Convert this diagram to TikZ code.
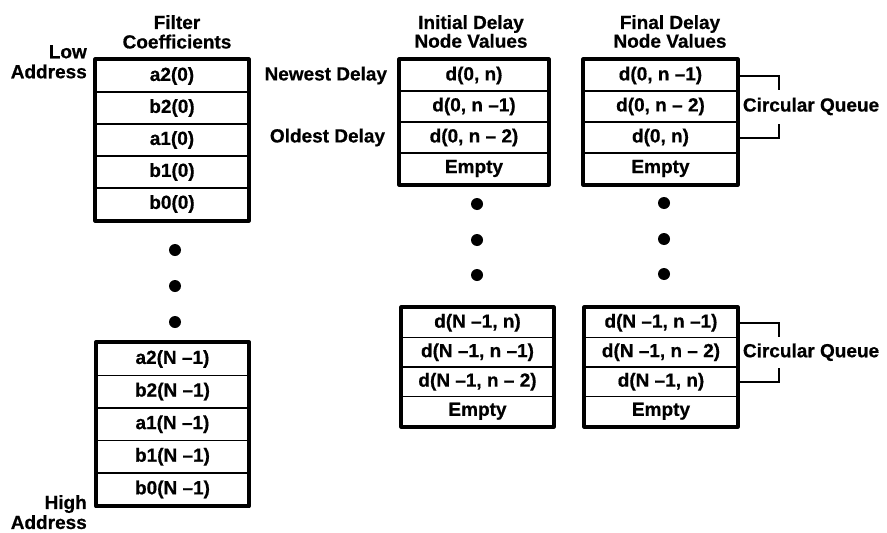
\documentclass[tikz,border=0pt]{standalone}
\usepackage{fontspec}
\setmainfont{Liberation Sans}[BoldFeatures={FakeBold=0.6}]
\usetikzlibrary{positioning}

\begin{document}
\begin{tikzpicture}[x=1pt, y=-1pt,
  every node/.style={inner sep=0pt, font=\fontsize{19}{20}\selectfont\bfseries},
  cell/.style={draw, line width=1.5pt},
  outer/.style={line width=4pt, line join=round},
  title/.style={align=center, anchor=north},
  dot/.style={circle, fill, minimum size=12pt},
  bracket/.style={line width=2pt}]
  \useasboundingbox (0,0) rectangle (887,533);

  % filter coefficients, first and last section
  \node[title, font=\fontsize{19}{19.5}\selectfont\bfseries] (ftitle) at (177,15) {Filter\\Coefficients};
  \foreach \txt [count=\i] in {a2(0), b2(0), a1(0), b1(0), b0(0)}
    \node[cell, minimum width=152pt, minimum height=32pt] (fa\i) at (172, 44+32*\i) {\txt};
  \draw[outer] (fa1.north west) rectangle (fa5.south east);
  \foreach \txt [count=\i] in {a2(N –1), b2(N –1), a1(N –1), b1(N –1), b0(N –1)}
    \node[cell, minimum width=151pt, minimum height=32.6pt] (fb\i) at (172.5, 326.4+32.6*\i) {\txt};
  \draw[outer] (fb1.north west) rectangle (fb5.south east);
  \foreach \y [count=\i] in {250, 286, 322}
    \node[dot] (fd\i) at (175, \y) {};
  \node[align=right, anchor=north east] (low) at (87,45) {Low\\Address};
  \node[align=right, anchor=north east] (high) at (87,495) {High\\Address};

  % initial delay node values
  \node[title, font=\fontsize{19}{17}\selectfont\bfseries] (ititle) at (471,15) {Initial Delay\\Node Values};
  \foreach \txt [count=\i] in {{d(0, n)}, {d(0, n –1)}, {d(0, n – 2)}, Empty}
    \node[cell, minimum width=148pt, minimum height=31pt] (ia\i) at (474, 44.5+31*\i) {\txt};
  \draw[outer] (ia1.north west) rectangle (ia4.south east);
  \foreach \txt [count=\i] in {{d(N –1, n)}, {d(N –1, n –1)}, {d(N –1, n – 2)}, Empty}
    \node[cell, minimum width=151pt, minimum height=29.5pt] (ib\i) at (477.5, 293.25+29.5*\i) {\txt};
  \draw[outer] (ib1.north west) rectangle (ib4.south east);
  \foreach \y [count=\i] in {204, 240, 275}
    \node[dot] (id\i) at (477, \y) {};
  \node[left=12pt of ia1] (newest) {Newest Delay};
  \node[left=14pt of ia3] (oldest) {Oldest Delay};

  % final delay node values
  \node[title, font=\fontsize{19}{17}\selectfont\bfseries] (gtitle) at (670,15) {Final Delay\\Node Values};
  \foreach \txt [count=\i] in {{d(0, n –1)}, {d(0, n – 2)}, {d(0, n)}, Empty}
    \node[cell, minimum width=153pt, minimum height=31pt] (ga\i) at (660.5, 44.5+31*\i) {\txt};
  \draw[outer] (ga1.north west) rectangle (ga4.south east);
  \foreach \txt [count=\i] in {{d(N –1, n –1)}, {d(N –1, n – 2)}, {d(N –1, n)}, Empty}
    \node[cell, minimum width=152pt, minimum height=29.5pt] (gb\i) at (661, 293.25+29.5*\i) {\txt};
  \draw[outer] (gb1.north west) rectangle (gb4.south east);
  \foreach \y [count=\i] in {203, 239, 274}
    \node[dot] (gd\i) at (664, \y) {};

  % circular queue brackets
  \node[right=5pt of ga2] (cqa) {Circular Queue};
  \draw[bracket] (ga1.east) -- ++(41,0) -- ++(0,14);
  \draw[bracket] (ga3.east) -- ++(41,0) -- ++(0,-14);
  \node[right=5pt of gb2] (cqb) {Circular Queue};
  \draw[bracket] (gb1.east) -- ++(41,0) -- ++(0,14);
  \draw[bracket] (gb3.east) -- ++(41,0) -- ++(0,-14);
\end{tikzpicture}
\end{document}
